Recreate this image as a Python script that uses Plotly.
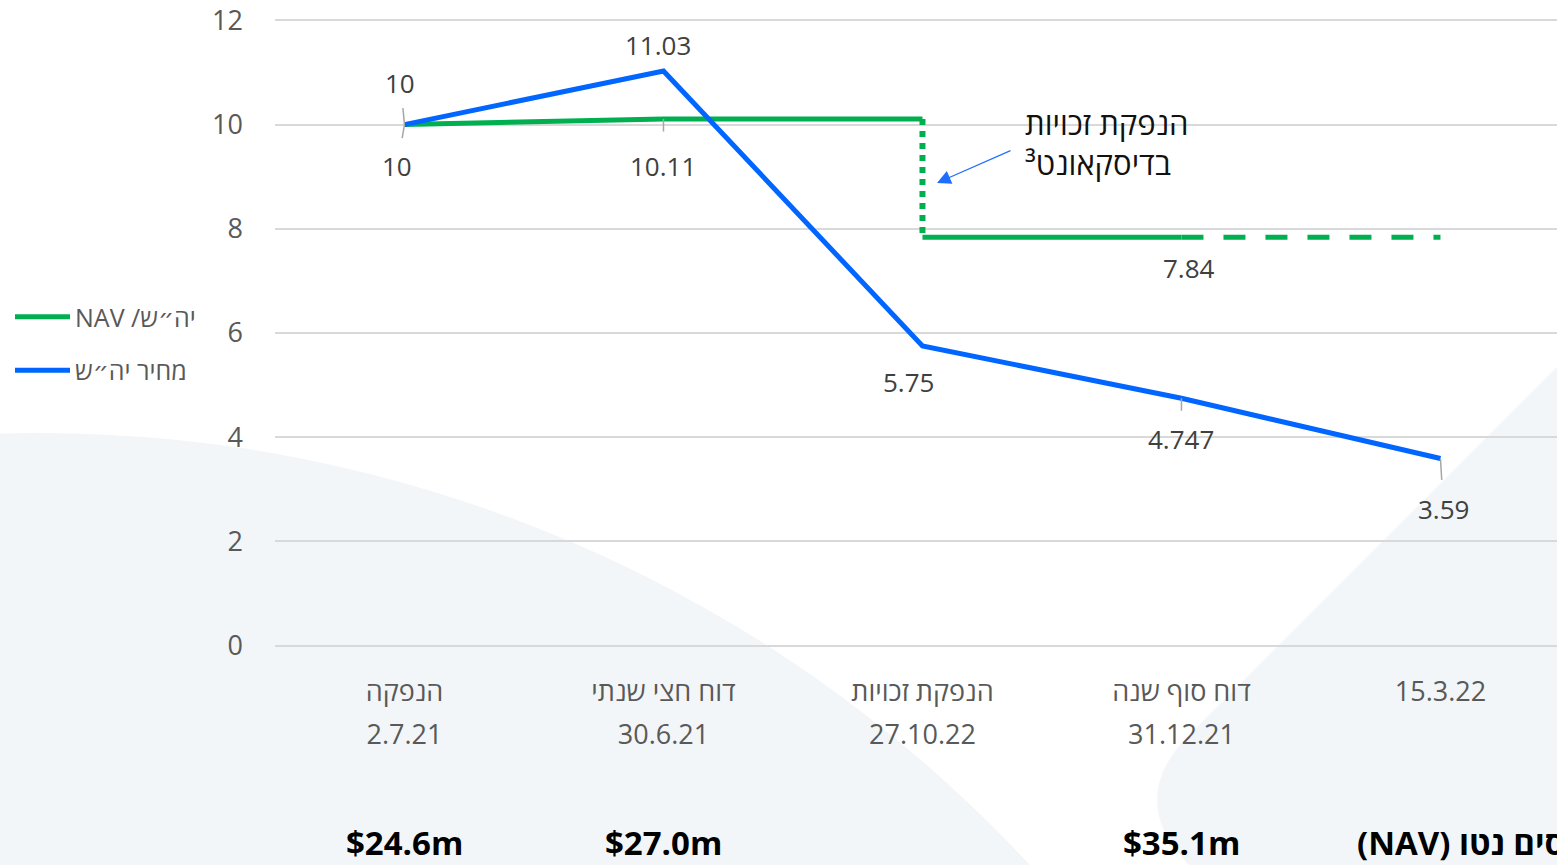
import plotly.graph_objects as go

# ---------------- data ----------------
category_names = ["הנפקה", "דוח חצי שנתי", "הנפקת זכויות", "דוח סוף שנה", ""]
category_dates = ["2.7.21", "30.6.21", "27.10.22", "31.12.21", "15.3.22"]
price = [10, 11.03, 5.75, 4.747, 3.59]            # מחיר יה"ש
nav_before_rights = [10, 10.11, 10.11]           # NAV, categories 0..2
nav_after_rights = [7.84, 7.84]                  # NAV after rights issue, categories 2..3
nav_projection = [7.84, 7.84]                    # dashed continuation, categories 3..4
nav_musd = [24.6, 27.0, None, 35.1, None]        # net asset value, $m
y_ticks = [0, 2, 4, 6, 8, 10, 12]
price_name = "מחיר יה״ש"
nav_name = "NAV /יה״ש"
callout_text = "הנפקת זכויות<br>בדיסקאונט³"
nav_title = "\u202bשווי נכסים נטו (NAV)\u202c"

idx = list(range(len(price)))
line1 = [n if n else d for n, d in zip(category_names, category_dates)]
line2 = [d if n else "" for n, d in zip(category_names, category_dates)]

# ---------------- style ----------------
W, H = 1557, 865
ML, MR, MT, MB = 275, 0, 10, 209
PW, PH = W - ML - MR, H - MT - MB
GREEN = "#00b050"
BLUE = "#0066ff"
FONT = "Open Sans, Noto Sans, DejaVu Sans, sans-serif"
TICK_COL = "#595959"
LAB_COL = "#404040"
BG_SHAPE = "#f2f6f8"


def xp(px):
    return (px - ML) / PW


def yp(py):
    return (MT + PH - py) / PH


fig = go.Figure()

nav_x1 = idx[:len(nav_before_rights)]
drop_x = nav_x1[-1]
after_x = [drop_x, drop_x + 1]
proj_x = [after_x[-1], after_x[-1] + 1]

fig.add_trace(go.Scatter(x=nav_x1, y=nav_before_rights, mode="lines", name=nav_name,
                         legendgroup="nav", line=dict(color=GREEN, width=5)))
fig.add_trace(go.Scatter(x=[drop_x, drop_x], y=[nav_before_rights[-1], nav_after_rights[0]],
                         mode="lines", showlegend=False, legendgroup="nav",
                         line=dict(color=GREEN, width=6, dash="6px,6px")))
fig.add_trace(go.Scatter(x=after_x, y=nav_after_rights, mode="lines", showlegend=False,
                         legendgroup="nav", line=dict(color=GREEN, width=5)))
fig.add_trace(go.Scatter(x=proj_x, y=nav_projection, mode="lines", showlegend=False,
                         legendgroup="nav", line=dict(color=GREEN, width=5, dash="22px,20px")))
fig.add_trace(go.Scatter(x=idx, y=price, mode="lines", name=price_name,
                         legendgroup="price", line=dict(color=BLUE, width=5)))

annotations = []


def label(x, y, ax, ay, leader, sso=0):
    annotations.append(dict(
        x=x, y=y, xref="x", yref="y", text=f"{y:g}", showarrow=True,
        ax=ax, ay=ay, arrowhead=0, arrowwidth=1.5,
        arrowcolor="#a6a6a6" if leader else "rgba(0,0,0,0)",
        startstandoff=sso, standoff=0,
        font=dict(family=FONT, size=26, color=LAB_COL)))


# price labels
price_offsets = [(-4, -42, True, 6), (-5, -26, False, 0), (-14, 36, False, 0),
                 (0, 41, True, 9), (3, 50, True, 9)]
for i, (ax, ay, ld, s) in enumerate(price_offsets):
    label(idx[i], price[i], ax, ay, ld, s)
# NAV labels
label(nav_x1[0], nav_before_rights[0], -7, 41, True, 8)
label(nav_x1[1], nav_before_rights[1], 0, 47, True, 15)
label(after_x[1], nav_after_rights[1], 8, 31, False, 0)

# callout
annotations.append(dict(x=2.39, y=9.64, xref="x", yref="y", text=callout_text,
                        showarrow=False, xanchor="left", yanchor="middle", align="left",
                        font=dict(family=FONT, size=31, color="#111111")))
annotations.append(dict(x=2.056, y=8.88, xref="x", yref="y", text="", showarrow=True,
                        ax=75, ay=-33, arrowhead=2, arrowsize=2.3, arrowwidth=1.2,
                        arrowcolor="#1f6fff"))

# NAV amounts row
for i, v in enumerate(nav_musd):
    if v is None:
        continue
    annotations.append(dict(x=idx[i], y=yp(842), xref="x", yref="paper",
                            text=f"<b>${v:.1f}m</b>", showarrow=False,
                            xanchor="center", yanchor="middle",
                            font=dict(family=FONT, size=33, color="#000000")))
annotations.append(dict(x=xp(1355), y=yp(842), xref="paper", yref="paper",
                        text=f"<b>{nav_title}</b>", showarrow=False,
                        xanchor="left", yanchor="middle",
                        font=dict(family=FONT, size=33, color="#000000")))

shapes = [
    dict(type="circle", xref="paper", yref="paper", layer="below",
         x0=xp(-1310), x1=xp(1390), y0=yp(433), y1=yp(3133),
         fillcolor=BG_SHAPE, line=dict(width=0)),
]
path = f"M{xp(1720)},{yp(204)} L{xp(1190)},{yp(734)} Q{xp(1124)},{yp(800)} {xp(1190)},{yp(866)} " \
       f"L{xp(1300)},{yp(976)} L{xp(1720)},{yp(976)} Z"
shapes.append(dict(type="path", path=path, xref="paper", yref="paper", layer="below",
                   fillcolor=BG_SHAPE, line=dict(width=0)))

fig.update_layout(
    width=W, height=H,
    margin=dict(l=ML, r=MR, t=MT, b=MB, pad=0),
    paper_bgcolor="white", plot_bgcolor="rgba(0,0,0,0)",
    font=dict(family=FONT, color=TICK_COL),
    showlegend=True,
    legend=dict(x=xp(10), y=yp(294), xref="paper", yref="paper", xanchor="left", yanchor="top",
                bgcolor="rgba(0,0,0,0)", font=dict(family=FONT, size=25, color=TICK_COL),
                tracegroupgap=18, itemwidth=55),
    xaxis=dict(range=[-0.5, 4.45], tickmode="array", tickvals=idx, ticktext=line1,
               showgrid=False, zeroline=False, showline=False, ticks="",
               ticklabelstandoff=17, tickfont=dict(family=FONT, size=27, color=TICK_COL),
               fixedrange=True),
    xaxis2=dict(range=[-0.5, 4.45], overlaying="x", anchor="y", side="bottom",
                tickmode="array", tickvals=idx, ticktext=line2,
                showgrid=False, zeroline=False, showline=False, ticks="",
                ticklabelstandoff=60, tickfont=dict(family=FONT, size=27, color=TICK_COL)),
    yaxis=dict(range=[-0.2, 12.2], tickmode="array", tickvals=y_ticks,
               showgrid=True, gridcolor="#d9d9d9", gridwidth=1.5, zeroline=False,
               showline=False, ticks="", ticklabelstandoff=31,
               tickfont=dict(family=FONT, size=27, color=TICK_COL)),
    annotations=annotations,
    shapes=shapes,
)
# invisible trace to activate the date axis
fig.add_trace(go.Scatter(x=[idx[0]], y=[None], xaxis="x2", yaxis="y", showlegend=False,
                         hoverinfo="skip", mode="lines"))

fig.write_html("out.html", config={"displayModeBar": False},
               post_script="document.body.style.margin='0';document.body.style.overflow='hidden';")
